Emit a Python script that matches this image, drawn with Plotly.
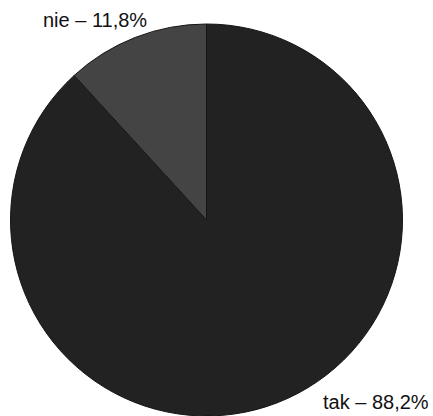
import plotly.graph_objects as go

W, H = 433, 416

# Survey answers (percent), drawn clockwise from 12 o'clock
labels = ["tak", "nie"]
values = [88.2, 11.8]
colors = ["#222222", "#444444"]

# Label anchor positions in pixels (centre of text)
label_pos = {"nie": (94.5, 19.5), "tak": (376, 401.5)}

def fmt(v):
    return f"{v:.1f}".replace(".", ",") + "%"

fig = go.Figure(
    go.Pie(
        labels=labels,
        values=values,
        sort=False,
        direction="clockwise",
        rotation=0,
        marker=dict(colors=colors, line=dict(color="#151515", width=1)),
        textinfo="none",
        hoverinfo="label+percent",
        showlegend=False,
        domain=dict(x=[10.5 / W, 402.5 / W], y=[0, 392 / H]),
    )
)

for lab, val in zip(labels, values):
    px, py = label_pos[lab]
    fig.add_annotation(
        x=px / W, y=1 - py / H, xref="paper", yref="paper",
        text=f"{lab} – {fmt(val)}", showarrow=False,
        xanchor="center", yanchor="middle",
        font=dict(family="Liberation Sans, Arial, sans-serif", size=20, color="#111111"),
    )

fig.update_layout(
    width=W, height=H,
    margin=dict(l=0, r=0, t=0, b=0),
    paper_bgcolor="white", plot_bgcolor="white",
)

fig.write_html("out.html")
